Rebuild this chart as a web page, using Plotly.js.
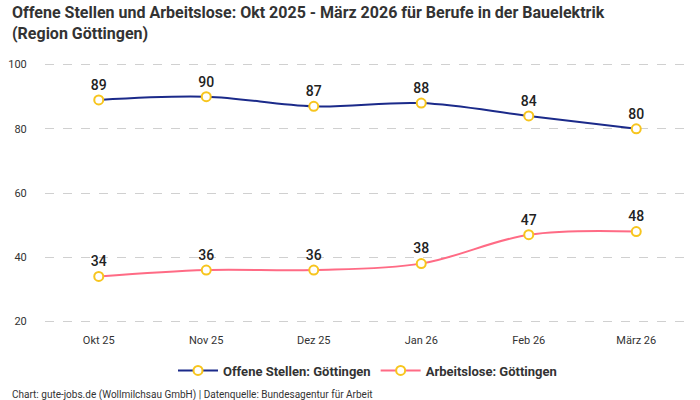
<!DOCTYPE html>
<html><head><meta charset="utf-8">
<script src="https://cdn.plot.ly/plotly-3.0.1.min.js"></script>
<style>html,body{margin:0;padding:0;background:#fff}#c{width:700px;height:400px}</style>
</head><body><div id="c"></div>
<script>
const months = ["Okt 25","Nov 25","Dez 25","Jan 26","Feb 26","März 26"];
const offeneStellen = [89,90,87,88,84,80];
const arbeitslose = [34,36,36,38,47,48];
const yTicks = [20,40,60,80,100];

const FONT = "Roboto, 'Noto Sans', sans-serif";
const marker = {size:9, color:"#ffffff", line:{color:"#f7c51e", width:2}};
function series(name, y, color){
  return {
    type:"scatter", mode:"lines+markers+text", name:name,
    x:months, y:y, text:y.map(String), textposition:"top center",
    textfont:{family:FONT, size:14, color:"#222", weight:500},
    line:{color:color, width:2, shape:"spline", smoothing:1},
    marker:marker, cliponaxis:false, hoverinfo:"skip"
  };
}
const data = [series("Offene Stellen: Göttingen", offeneStellen, "#1b2a8a"),
              series("Arbeitslose: Göttingen", arbeitslose, "#ff6b85")];
const layout = {
  width:700, height:400,
  margin:{l:45, r:10, t:63.4, b:77.4},
  paper_bgcolor:"#fff", plot_bgcolor:"#fff",
  font:{family:FONT, color:"#333", size:11},
  xaxis:{type:"category", range:[-0.5,5.5], showgrid:false, zeroline:false, showline:false,
    ticks:"outside", ticklen:7, tickcolor:"rgba(0,0,0,0)", tickfont:{size:11, color:"#333"}, fixedrange:true},
  yaxis:{range:[19.5,100.5], tickvals:yTicks, showgrid:true, gridcolor:"#d0d0d0", griddash:"dash", gridwidth:1,
    zeroline:false, showline:false, ticks:"outside", ticklen:15, tickcolor:"rgba(0,0,0,0)",
    tickfont:{size:11, color:"#333"}, fixedrange:true},
  showlegend:true,
  legend:{orientation:"h", x:0.5, xanchor:"center", y:-0.125, yanchor:"top",
    font:{family:FONT, size:13, color:"#333", weight:"bold"}, itemwidth:40},
  annotations:[
    {text:"<b>Offene Stellen und Arbeitslose: Okt 2025 - März 2026 für Berufe in der Bauelektrik<br>(Region Göttingen)</b>",
     xref:"paper", yref:"paper", x:-0.054, xanchor:"left", align:"left", y:1.237, yanchor:"top", showarrow:false,
     font:{family:FONT, size:16, color:"#333"}},
    {text:"Chart: gute-jobs.de (Wollmilchsau GmbH) | Datenquelle: Bundesagentur für Arbeit",
    xref:"paper", yref:"paper", x:-0.054, xanchor:"left", y:-0.278, yanchor:"middle", showarrow:false,
    font:{family:FONT, size:10, color:"#333"}}]
};
Plotly.newPlot("c", data, layout, {displayModeBar:false, staticPlot:true});
</script></body></html>
